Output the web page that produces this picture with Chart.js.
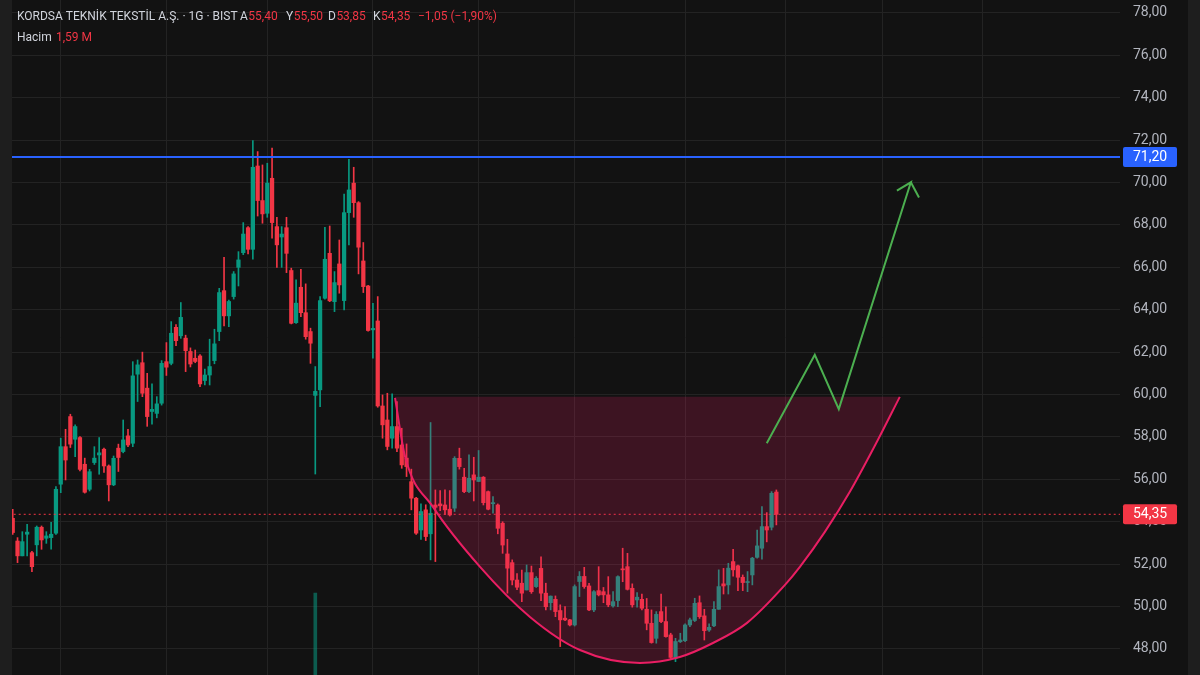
<!DOCTYPE html>
<html>
<head>
<meta charset="utf-8">
<script src="https://cdn.jsdelivr.net/npm/chart.js@4.4.1/dist/chart.umd.min.js"></script>
<style>
	html, body { margin: 0; padding: 0; background: #121212; }
	#wrap { width: 1200px; height: 675px; }
</style>
</head>
<body>
<div id="wrap"><canvas id="chart" width="1200" height="675"></canvas></div>
<script>
// daily candles (index = trading day)
const opens = [
	54.16, 53.09, 52.39, 53.41, 52.54, 52.91, 53.74, 53.22, 53.25, 53.46,
	55.77, 57.54, 58.96, 57.89, 57.97, 56.71, 55.53, 56.79, 57.15, 57.42,
	56.63, 55.74, 57.47, 57.31, 58.05, 57.70, 60.96, 61.50, 60.30, 59.20,
	59.11, 59.59, 61.55, 61.47, 63.17, 62.77, 62.66, 62.03, 61.71, 61.82,
	60.66, 60.92, 61.60, 62.97, 64.90, 63.71, 64.62, 66.00, 66.69, 67.87,
	66.85, 70.78, 69.15, 68.55, 70.20, 67.92, 67.43, 67.87, 65.85, 63.39,
	65.06, 63.86, 62.97, 59.96, 60.22, 64.54, 66.66, 64.38, 66.16, 64.43,
	68.58, 69.97, 69.05, 66.30, 65.12, 63.05, 63.47, 59.46, 58.80, 57.94,
	58.49, 57.62, 57.00, 55.89, 55.11, 53.61, 54.56, 53.43, 54.79, 54.84,
	54.79, 54.59, 54.64, 56.99, 56.10, 55.42, 56.21, 55.90, 56.10, 55.42,
	54.85, 54.79, 53.93, 52.48, 52.07, 51.25, 51.10, 50.78, 51.60, 50.94,
	51.80, 50.63, 50.18, 50.34, 49.81, 49.45, 49.37, 49.13, 51.18, 51.42,
	50.97, 49.84, 50.75, 50.70, 50.55, 50.03, 50.28, 51.76, 51.88, 50.86,
	50.31, 50.34, 49.87, 49.21, 48.50, 49.76, 49.29, 48.66, 47.56, 48.34,
	48.39, 49.13, 49.34, 50.18, 49.56, 48.89, 49.09, 49.87, 51.07, 51.02,
	52.12, 51.92, 51.38, 51.13, 51.49, 52.32, 52.75, 53.77, 53.74, 55.40
]
const highs = [
	54.59, 53.25, 53.53, 53.88, 52.60, 53.80, 53.80, 53.53, 53.97, 55.66,
	57.94, 58.36, 59.07, 58.57, 58.02, 57.00, 56.47, 57.54, 57.97, 57.47,
	56.68, 57.10, 57.66, 58.80, 58.36, 61.55, 61.63, 62.00, 61.00, 60.50,
	59.90, 61.60, 62.45, 63.44, 63.30, 64.34, 62.80, 62.20, 62.10, 61.88,
	61.20, 62.61, 63.08, 65.01, 66.47, 64.46, 65.80, 66.74, 68.11, 67.92,
	71.98, 71.46, 70.83, 70.91, 71.62, 68.36, 67.92, 68.36, 65.96, 65.41,
	65.91, 65.22, 63.13, 61.32, 64.62, 67.89, 67.95, 65.80, 67.29, 69.46,
	71.10, 70.72, 69.10, 67.17, 65.15, 64.30, 64.62, 59.98, 60.06, 60.03,
	59.67, 58.41, 57.67, 56.48, 55.15, 54.84, 54.80, 58.68, 55.50, 55.47,
	55.50, 55.47, 57.07, 57.47, 56.52, 57.15, 57.04, 57.36, 56.13, 55.45,
	55.19, 54.84, 54.00, 53.17, 52.20, 51.55, 51.72, 51.96, 51.91, 51.41,
	52.35, 51.10, 50.50, 50.50, 50.08, 50.00, 49.40, 51.02, 51.65, 51.85,
	51.10, 50.75, 51.88, 50.90, 51.41, 50.70, 51.45, 52.75, 52.51, 51.07,
	50.66, 50.59, 50.38, 49.84, 49.76, 50.59, 49.99, 48.74, 48.50, 48.74,
	49.18, 49.45, 50.39, 50.50, 49.87, 49.18, 50.23, 51.73, 51.80, 52.04,
	52.70, 51.96, 51.49, 51.65, 52.32, 53.61, 54.71, 54.43, 55.42, 55.50
]
const lows = [
	53.40, 52.07, 52.39, 52.39, 51.65, 52.39, 52.70, 52.98, 52.70, 53.40,
	55.37, 55.97, 57.50, 57.07, 56.40, 55.35, 55.45, 56.70, 56.24, 56.32,
	54.98, 55.70, 56.37, 57.25, 57.54, 57.54, 59.67, 59.90, 58.50, 58.60,
	58.90, 59.50, 60.90, 61.40, 62.30, 62.65, 61.08, 61.30, 61.50, 60.37,
	60.45, 60.45, 61.45, 62.54, 63.24, 63.20, 64.50, 65.12, 66.60, 66.63,
	66.38, 68.42, 68.08, 68.36, 67.37, 66.00, 66.00, 65.75, 63.33, 63.36,
	63.67, 62.61, 61.47, 56.25, 59.43, 64.50, 64.38, 63.91, 64.78, 63.99,
	67.06, 68.36, 65.69, 64.81, 62.99, 61.71, 59.40, 57.94, 57.39, 57.47,
	57.31, 56.52, 56.13, 54.56, 53.40, 53.17, 53.11, 52.20, 52.12, 54.52,
	54.35, 54.27, 54.48, 56.48, 55.37, 55.37, 54.98, 55.89, 54.79, 54.56,
	54.40, 53.43, 52.51, 50.63, 51.02, 50.80, 50.23, 50.78, 50.62, 50.90,
	50.28, 49.84, 49.84, 49.52, 48.11, 49.33, 49.08, 49.08, 50.47, 50.86,
	49.81, 49.76, 50.50, 50.18, 49.99, 49.97, 49.99, 51.17, 50.78, 49.97,
	49.97, 49.84, 48.90, 48.27, 48.27, 49.24, 48.55, 47.55, 47.40, 48.30,
	48.34, 49.05, 49.29, 49.44, 48.42, 48.82, 49.05, 49.87, 50.59, 50.59,
	51.43, 50.75, 50.75, 50.70, 51.02, 52.28, 52.23, 53.05, 53.61, 53.85
]
const closes = [
	53.49, 52.39, 53.06, 53.51, 51.88, 53.74, 53.14, 53.33, 53.41, 55.53,
	57.54, 56.91, 57.66, 58.49, 56.47, 55.39, 56.36, 57.00, 57.25, 56.63,
	55.74, 56.99, 57.03, 57.86, 57.62, 60.88, 61.40, 60.06, 58.96, 59.30,
	59.56, 61.47, 61.29, 62.89, 62.54, 63.64, 62.07, 61.44, 61.56, 60.50,
	60.92, 61.32, 62.39, 64.81, 63.71, 64.39, 65.69, 66.35, 67.57, 66.85,
	70.72, 69.15, 68.52, 69.97, 68.11, 67.06, 67.57, 66.66, 63.36, 64.31,
	63.86, 62.73, 62.42, 60.15, 64.43, 66.38, 64.42, 65.28, 65.17, 68.58,
	69.65, 69.05, 66.95, 65.09, 63.02, 63.12, 59.46, 58.57, 57.55, 58.49,
	57.47, 56.68, 56.60, 55.11, 53.46, 54.48, 53.30, 54.40, 54.68, 54.75,
	54.56, 54.32, 56.99, 56.60, 55.42, 56.05, 55.97, 56.10, 54.90, 54.59,
	54.90, 53.69, 52.90, 51.81, 51.25, 50.91, 50.63, 51.60, 50.70, 51.33,
	50.63, 49.99, 50.49, 49.76, 49.37, 49.37, 49.13, 50.94, 51.42, 50.94,
	49.84, 50.70, 50.55, 50.55, 50.08, 50.23, 51.41, 51.73, 50.81, 50.08,
	50.44, 49.92, 49.21, 48.30, 49.63, 49.29, 48.58, 47.60, 48.35, 48.42,
	49.13, 49.37, 50.15, 49.52, 48.86, 49.02, 49.87, 50.94, 50.97, 51.81,
	51.73, 51.38, 51.13, 51.18, 52.28, 52.86, 53.77, 53.61, 55.34, 54.35
]

// the one volume bar that reaches into view (day 63), top in price units
const volumeSpikeDay = 63
const volumeSpikeTop = 50.64

const monthStarts = [10, 32, 53, 75, 97, 117, 140, 161, 181, 202]
const priceTicks = [48, 50, 52, 54, 56, 58, 60, 62, 64, 66, 68, 70, 72, 74, 76, 78]

const resistance = 71.2
const lastClose = 54.35

// cup drawing (day, price)
const cupDays = [79.6, 81.7, 87.5, 97.3, 107.7, 118.1, 130.6, 138.9, 145.8, 152.9, 160.8, 163.9, 169.1, 174.3, 179.5, 184.7]
const cupPrices = [59.84, 57.06, 54.70, 51.87, 49.51, 47.95, 47.34, 47.62, 48.28, 49.23, 51.02, 51.87, 53.52, 55.41, 57.58, 59.89]
const cupRim = 59.9

// green projection arrow (day, price)
const arrowDays = [157.0, 167.0, 172.0, 187.0, 184.1]
const arrowPrices = [57.70, 61.87, 59.31, 70.01, 69.62]
const arrowTipDays = [187.0, 188.7]
const arrowTipPrices = [70.01, 69.29]

const header = {
	name: 'KORDSA TEKNİK TEKSTİL A.Ş. · 1G · BIST',
	ohlc: [['A', '55,40'], ['Y', '55,50'], ['D', '53,85'], ['K', '54,35']],
	change: '−1,05 (−1,90%)',
	volLabel: 'Hacim',
	vol: '1,59 M'
}

const UP = '#089981'
const DOWN = '#f23645'
const GRID = '#232323'
const TEXT = '#d1d4dc'
const FONT = 'Roboto, "Noto Sans", sans-serif'

const days = opens.map((_, i) => i)
const candleColors = days.map(i => closes[i] >= opens[i] ? UP : DOWN)
const fmt = v => v.toFixed(2).replace('.', ',')

const pts = (xs, ys) => xs.map((x, i) => ({ x: x, y: ys[i] }))

const chromePlugin = {
	id: 'chrome',
	beforeDraw(chart) {
		const ctx = chart.ctx
		ctx.save()
		ctx.fillStyle = '#121212'
		ctx.fillRect(0, 0, chart.width, chart.height)
		ctx.fillStyle = '#1e1e1e'
		ctx.fillRect(0, 0, 12, chart.height)
		ctx.fillRect(1188, 0, 12, chart.height)
		ctx.restore()
	},
	afterDraw(chart) {
		const ctx = chart.ctx
		const y = chart.scales.y
		const area = chart.chartArea
		ctx.save()

		const tag = (value, color) => {
			const py = y.getPixelForValue(value)
			ctx.fillStyle = color
			ctx.beginPath()
			ctx.roundRect(area.right + 3, py - 10, 54, 20, 2)
			ctx.fill()
			ctx.fillStyle = '#ffffff'
			ctx.font = '14px ' + FONT
			ctx.textAlign = 'left'
			ctx.textBaseline = 'middle'
			ctx.fillText(fmt(value), area.right + 13, py + 0.5)
		}
		tag(resistance, '#2962ff')
		tag(lastClose, DOWN)

		// legend line at the top left
		ctx.font = '12px ' + FONT
		ctx.textBaseline = 'middle'
		ctx.textAlign = 'left'
		ctx.fillStyle = TEXT
		ctx.fillText(header.name, 17, 17)
		const ohlcX = [240, 286, 328, 373]
		header.ohlc.forEach(([k, v], i) => {
			ctx.fillStyle = TEXT
			ctx.fillText(k, ohlcX[i], 17)
			ctx.fillStyle = DOWN
			ctx.fillText(v, ohlcX[i] + ctx.measureText(k).width + 0.5, 17)
		})
		ctx.fillStyle = DOWN
		ctx.fillText(header.change, 418, 17)

		ctx.fillStyle = TEXT
		ctx.fillText(header.volLabel, 17, 38)
		ctx.fillStyle = DOWN
		ctx.fillText(header.vol, 56, 38)
		ctx.restore()
	}
}

new Chart(document.getElementById('chart'), {
	type: 'bar',
	data: {
		datasets: [
			{
				label: 'volume',
				data: [{ x: volumeSpikeDay, y: [40, volumeSpikeTop] }],
				backgroundColor: 'rgba(8,153,129,0.55)',
				barThickness: 3,
				grouped: false,
				order: 10
			},
			{
				label: 'wick',
				data: days.map(i => ({ x: i, y: [lows[i], highs[i]] })),
				backgroundColor: candleColors,
				barThickness: 1,
				grouped: false,
				order: 6
			},
			{
				label: 'body',
				data: days.map(i => ({ x: i, y: [opens[i], closes[i]] })),
				backgroundColor: candleColors,
				barThickness: 3.6,
				minBarLength: 1,
				grouped: false,
				order: 5
			},
			{
				type: 'line',
				label: 'last',
				data: [{ x: -5, y: lastClose }, { x: 240, y: lastClose }],
				borderColor: DOWN,
				borderWidth: 1,
				borderDash: [2, 3],
				pointRadius: 0,
				order: 4
			},
			{
				type: 'line',
				label: 'resistance',
				data: [{ x: -5, y: resistance }, { x: 240, y: resistance }],
				borderColor: '#2962ff',
				borderWidth: 2,
				pointRadius: 0,
				order: 3
			},
			{
				type: 'line',
				label: 'cup',
				data: pts(cupDays, cupPrices),
				borderColor: '#e91e63',
				borderWidth: 2,
				backgroundColor: 'rgba(233,30,99,0.2)',
				fill: { value: cupRim },
				cubicInterpolationMode: 'monotone',
				pointRadius: 0,
				order: 2
			},
			{
				type: 'line',
				label: 'arrow',
				data: pts(arrowDays, arrowPrices),
				borderColor: '#4caf50',
				borderWidth: 2,
				pointRadius: 0,
				order: 1
			},
			{
				type: 'line',
				label: 'arrowTip',
				data: pts(arrowTipDays, arrowTipPrices),
				borderColor: '#4caf50',
				borderWidth: 2,
				pointRadius: 0,
				order: 1
			}
		]
	},
	options: {
		responsive: false,
		animation: false,
		events: [],
		layout: { padding: { left: 12, top: 0, right: 0, bottom: 0 }, autoPadding: false },
		plugins: { legend: { display: false }, tooltip: { enabled: false } },
		scales: {
			x: {
				type: 'linear',
				min: -0.15,
				max: 230.55,
				offset: false,
				afterBuildTicks: s => { s.ticks = monthStarts.map(v => ({ value: v })) },
				afterFit: s => { s.height = 0; s.paddingLeft = 0; s.paddingRight = 0 },
				grid: { color: GRID, drawTicks: false, offset: false },
				border: { display: false },
				ticks: { display: false }
			},
			y: {
				position: 'right',
				min: 46.77,
				max: 78.61,
				afterBuildTicks: s => { s.ticks = priceTicks.map(v => ({ value: v })) },
				afterFit: s => { s.width = 80; s.paddingTop = 0; s.paddingBottom = 0 },
				grid: { color: GRID, drawTicks: false },
				border: { display: false },
				ticks: {
					color: '#b2b5be',
					padding: 13,
					font: { family: FONT, size: 14 },
					callback: v => fmt(v)
				}
			}
		}
	},
	plugins: [chromePlugin]
})
</script>
</body>
</html>
